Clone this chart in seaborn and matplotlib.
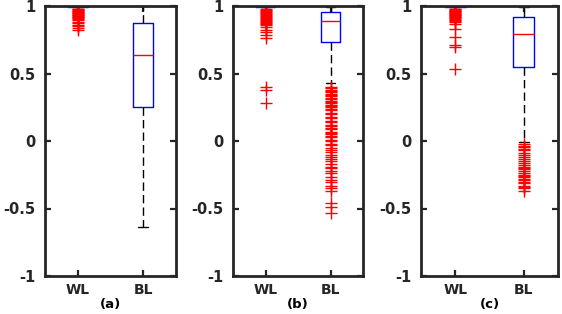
import matplotlib
matplotlib.use("Agg")
import matplotlib.pyplot as plt
import seaborn as sns
import pandas as pd

# ---------------- data ----------------
panels = ["(a)", "(b)", "(c)"]
groups = ["WL", "BL"]
ytick_vals = [-1, -0.5, 0, 0.5, 1]
ytick_labels = ["-1", "-0.5", "0", "0.5", "1"]

# box summaries per panel: [WL, BL]
q1 = {"(a)": [0.993, 0.252], "(b)": [0.993, 0.735], "(c)": [0.993, 0.545]}
med = {"(a)": [1.0, 0.635], "(b)": [1.0, 0.889], "(c)": [1.0, 0.790]}
q3 = {"(a)": [1.0, 0.872], "(b)": [1.0, 0.953], "(c)": [1.0, 0.916]}
whislo = {"(a)": [0.99, -0.637], "(b)": [0.99, 0.43], "(c)": [0.99, -0.005]}
whishi = {"(a)": [1.0, 1.0], "(b)": [1.0, 0.995], "(c)": [1.0, 0.995]}

a_wl_out = [0.98, 0.975, 0.97, 0.965, 0.96, 0.955, 0.95, 0.945, 0.94, 0.935,
            0.93, 0.925, 0.92, 0.915, 0.91, 0.905, 0.90, 0.885, 0.875, 0.86,
            0.85, 0.835, 0.82]
a_bl_out = []
b_wl_out = [0.98, 0.972, 0.965, 0.958, 0.95, 0.943, 0.935, 0.928, 0.92, 0.912,
            0.905, 0.897, 0.89, 0.882, 0.875, 0.867, 0.86, 0.845, 0.822, 0.807,
            0.785, 0.763, 0.398, 0.378, 0.281]
b_bl_out = [0.40, 0.39, 0.38, 0.37, 0.36, 0.35, 0.34, 0.33, 0.32, 0.31, 0.30,
            0.29, 0.28, 0.27, 0.26, 0.25, 0.24, 0.23, 0.21, 0.20, 0.18, 0.17,
            0.15, 0.14, 0.12, 0.11, 0.10, 0.09, 0.07, 0.06, 0.05, 0.04, 0.03,
            0.01, 0.0, -0.02, -0.03, -0.05, -0.07, -0.08, -0.10, -0.12, -0.13,
            -0.15, -0.17, -0.19, -0.20, -0.22, -0.24, -0.27, -0.29, -0.30,
            -0.33, -0.35, -0.37, -0.46, -0.49, -0.53]
c_wl_out = [0.98, 0.975, 0.97, 0.965, 0.96, 0.955, 0.95, 0.945, 0.94, 0.935,
            0.93, 0.925, 0.92, 0.915, 0.91, 0.905, 0.90, 0.89, 0.88, 0.87,
            0.83, 0.77, 0.71, 0.70, 0.53]
c_bl_out = [-0.02, -0.035, -0.045, -0.06, -0.07, -0.09, -0.10, -0.12, -0.13,
            -0.15, -0.16, -0.18, -0.19, -0.20, -0.21, -0.22, -0.24, -0.25,
            -0.26, -0.27, -0.28, -0.29, -0.30, -0.31, -0.33, -0.34, -0.35,
            -0.37]
outliers = {"(a)": [a_wl_out, a_bl_out], "(b)": [b_wl_out, b_bl_out],
            "(c)": [c_wl_out, c_bl_out]}


def sample_from_summary(out, lo, a, m_, b, hi):
    """Sorted sample whose quartiles / whiskers equal the read summary."""
    n = len(out)
    m = n + 1
    return list(out) + [lo] * (m - n) + [a] * m + [m_] * m + [b] * m + [hi]


rows = []
for p in panels:
    for gi, g in enumerate(groups):
        vals = sample_from_summary(outliers[p][gi], whislo[p][gi], q1[p][gi],
                                   med[p][gi], q3[p][gi], whishi[p][gi])
        rows += [{"panel": p, "group": g, "value": v} for v in vals]
df = pd.DataFrame(rows)

# ---------------- drawing ----------------
sns.set_style("white")
plt.rcParams["font.family"] = ["DejaVu Sans"]
plt.rcParams["axes.unicode_minus"] = False

fig = plt.figure(figsize=(5.62, 3.14), dpi=100)
ax_rects = [(45 / 562, 38 / 314, 131 / 562, 270 / 314),
            (233 / 562, 38 / 314, 130 / 562, 270 / 314),
            (421 / 562, 38 / 314, 137 / 562, 270 / 314)]
spine_col = "#262626"

for p, rect in zip(panels, ax_rects):
    ax = fig.add_axes(rect)
    sns.boxplot(data=df[df.panel == p], x="group", y="value", order=groups,
                ax=ax, width=0.3, fill=False, whis=1.5, linewidth=1.0,
                boxprops=dict(color="blue", linewidth=1.0),
                medianprops=dict(color="red", linewidth=1.0),
                whiskerprops=dict(color="black", linewidth=1.0,
                                  linestyle=(0, (6, 3))),
                capprops=dict(color="black", linewidth=1.0),
                flierprops=dict(marker="+", markeredgecolor="red",
                                markerfacecolor="red", markersize=8,
                                markeredgewidth=1.0, linestyle="none"))
    ax.set_xlim(-0.5, 1.5)
    ax.set_ylim(-1, 1)
    ax.set_yticks(ytick_vals)
    ax.set_yticklabels(ytick_labels)
    ax.set_xticks([0, 1])
    ax.set_xticklabels(groups)
    ax.set_ylabel("")
    ax.set_xlabel(p, fontsize=9.5, fontweight="bold", labelpad=1,
                  color="black")
    for s in ax.spines.values():
        s.set_visible(True)
        s.set_linewidth(2)
        s.set_color(spine_col)
    ax.tick_params(axis="both", direction="in", length=4, width=1.6,
                   color=spine_col, top=True, right=True, bottom=True,
                   left=True, labelcolor=spine_col)
    ax.tick_params(axis="y", pad=7, labelsize=10.5)
    ax.tick_params(axis="x", pad=5, labelsize=10)
    for lab in ax.get_xticklabels() + ax.get_yticklabels():
        lab.set_fontweight("bold")

fig.savefig("out.png", dpi=100)
